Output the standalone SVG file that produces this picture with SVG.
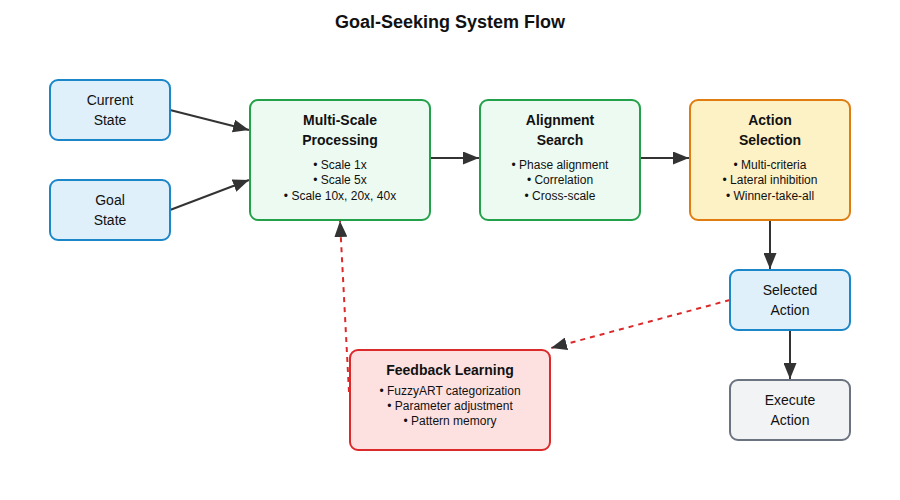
<svg xmlns="http://www.w3.org/2000/svg" width="900" height="500" viewBox="0 0 900 500">
<defs>
<marker id="ah" viewBox="0 0 10 10" refX="10" refY="5" markerWidth="8" markerHeight="6.5" orient="auto" markerUnits="strokeWidth" preserveAspectRatio="none"><path d="M0,0 L10,5 L0,10 z" fill="#333"/></marker>
<marker id="ahr" viewBox="0 0 10 10" refX="10" refY="5" markerWidth="8" markerHeight="6.5" orient="auto" markerUnits="strokeWidth" preserveAspectRatio="none"><path d="M0,0 L10,5 L0,10 z" fill="#333"/></marker>
<style>
text{font-family:"Liberation Sans",Arial,Helvetica,sans-serif;fill:#111;text-anchor:middle}
.t{font-size:14px}
.b{font-size:14px;font-weight:bold}
.s{font-size:12px}
.blue{fill:#dff0fb;stroke:#1b86c8;stroke-width:2}
.green{fill:#edfaf1;stroke:#22a14a;stroke-width:2}
.orange{fill:#fdf1c6;stroke:#df7d10;stroke-width:2}
.red{fill:#fde1e1;stroke:#dc2a2a;stroke-width:2}
.gray{fill:#f2f3f5;stroke:#6b7280;stroke-width:2}
.c{stroke:#333;stroke-width:2;fill:none;marker-end:url(#ah)}
.d{stroke:#dc2a2a;stroke-width:2;fill:none;stroke-dasharray:5,5;marker-end:url(#ahr)}
</style>
</defs>
<rect width="900" height="500" fill="#fff"/>
<text x="450" y="28" style="font-size:18px;font-weight:bold">Goal-Seeking System Flow</text>
<g id="connectors">
<line class="c" x1="170" y1="110" x2="249" y2="130"/>
<line class="c" x1="170" y1="210" x2="249" y2="180"/>
<line class="c" x1="430" y1="158" x2="479" y2="158"/>
<line class="c" x1="640" y1="158" x2="689" y2="158"/>
<line class="c" x1="770" y1="220" x2="770" y2="269"/>
<line class="c" x1="790" y1="330" x2="790" y2="379"/>
<line class="d" x1="730" y1="300" x2="551" y2="348"/>
<line class="d" x1="349" y1="392" x2="340" y2="221"/>
</g>
<g id="current"><rect class="blue" x="50" y="80" width="120" height="60" rx="8"/><text class="t" x="110" y="105">Current</text><text class="t" x="110" y="125">State</text></g>
<g id="goal"><rect class="blue" x="50" y="180" width="120" height="60" rx="8"/><text class="t" x="110" y="205">Goal</text><text class="t" x="110" y="225">State</text></g>
<g id="multiscale"><rect class="green" x="250" y="100" width="180" height="120" rx="8"/><text class="b" x="340" y="125">Multi-Scale</text><text class="b" x="340" y="145">Processing</text><text class="s" x="340" y="169">• Scale 1x</text><text class="s" x="340" y="184">• Scale 5x</text><text class="s" x="340" y="200">• Scale 10x, 20x, 40x</text></g>
<g id="alignment"><rect class="green" x="480" y="100" width="160" height="120" rx="8"/><text class="b" x="560" y="125">Alignment</text><text class="b" x="560" y="145">Search</text><text class="s" x="560" y="169">• Phase alignment</text><text class="s" x="560" y="184">• Correlation</text><text class="s" x="560" y="200">• Cross-scale</text></g>
<g id="action"><rect class="orange" x="690" y="100" width="160" height="120" rx="8"/><text class="b" x="770" y="125">Action</text><text class="b" x="770" y="145">Selection</text><text class="s" x="770" y="169">• Multi-criteria</text><text class="s" x="770" y="184">• Lateral inhibition</text><text class="s" x="770" y="200">• Winner-take-all</text></g>
<g id="selected"><rect class="blue" x="730" y="270" width="120" height="60" rx="8"/><text class="t" x="790" y="295">Selected</text><text class="t" x="790" y="315">Action</text></g>
<g id="execute"><rect class="gray" x="730" y="380" width="120" height="60" rx="8"/><text class="t" x="790" y="405">Execute</text><text class="t" x="790" y="425">Action</text></g>
<g id="feedback"><rect class="red" x="350" y="350" width="200" height="100" rx="8"/><text class="b" x="450" y="375">Feedback Learning</text><text class="s" x="450" y="395">• FuzzyART categorization</text><text class="s" x="450" y="410">• Parameter adjustment</text><text class="s" x="450" y="425">• Pattern memory</text></g>
</svg>
